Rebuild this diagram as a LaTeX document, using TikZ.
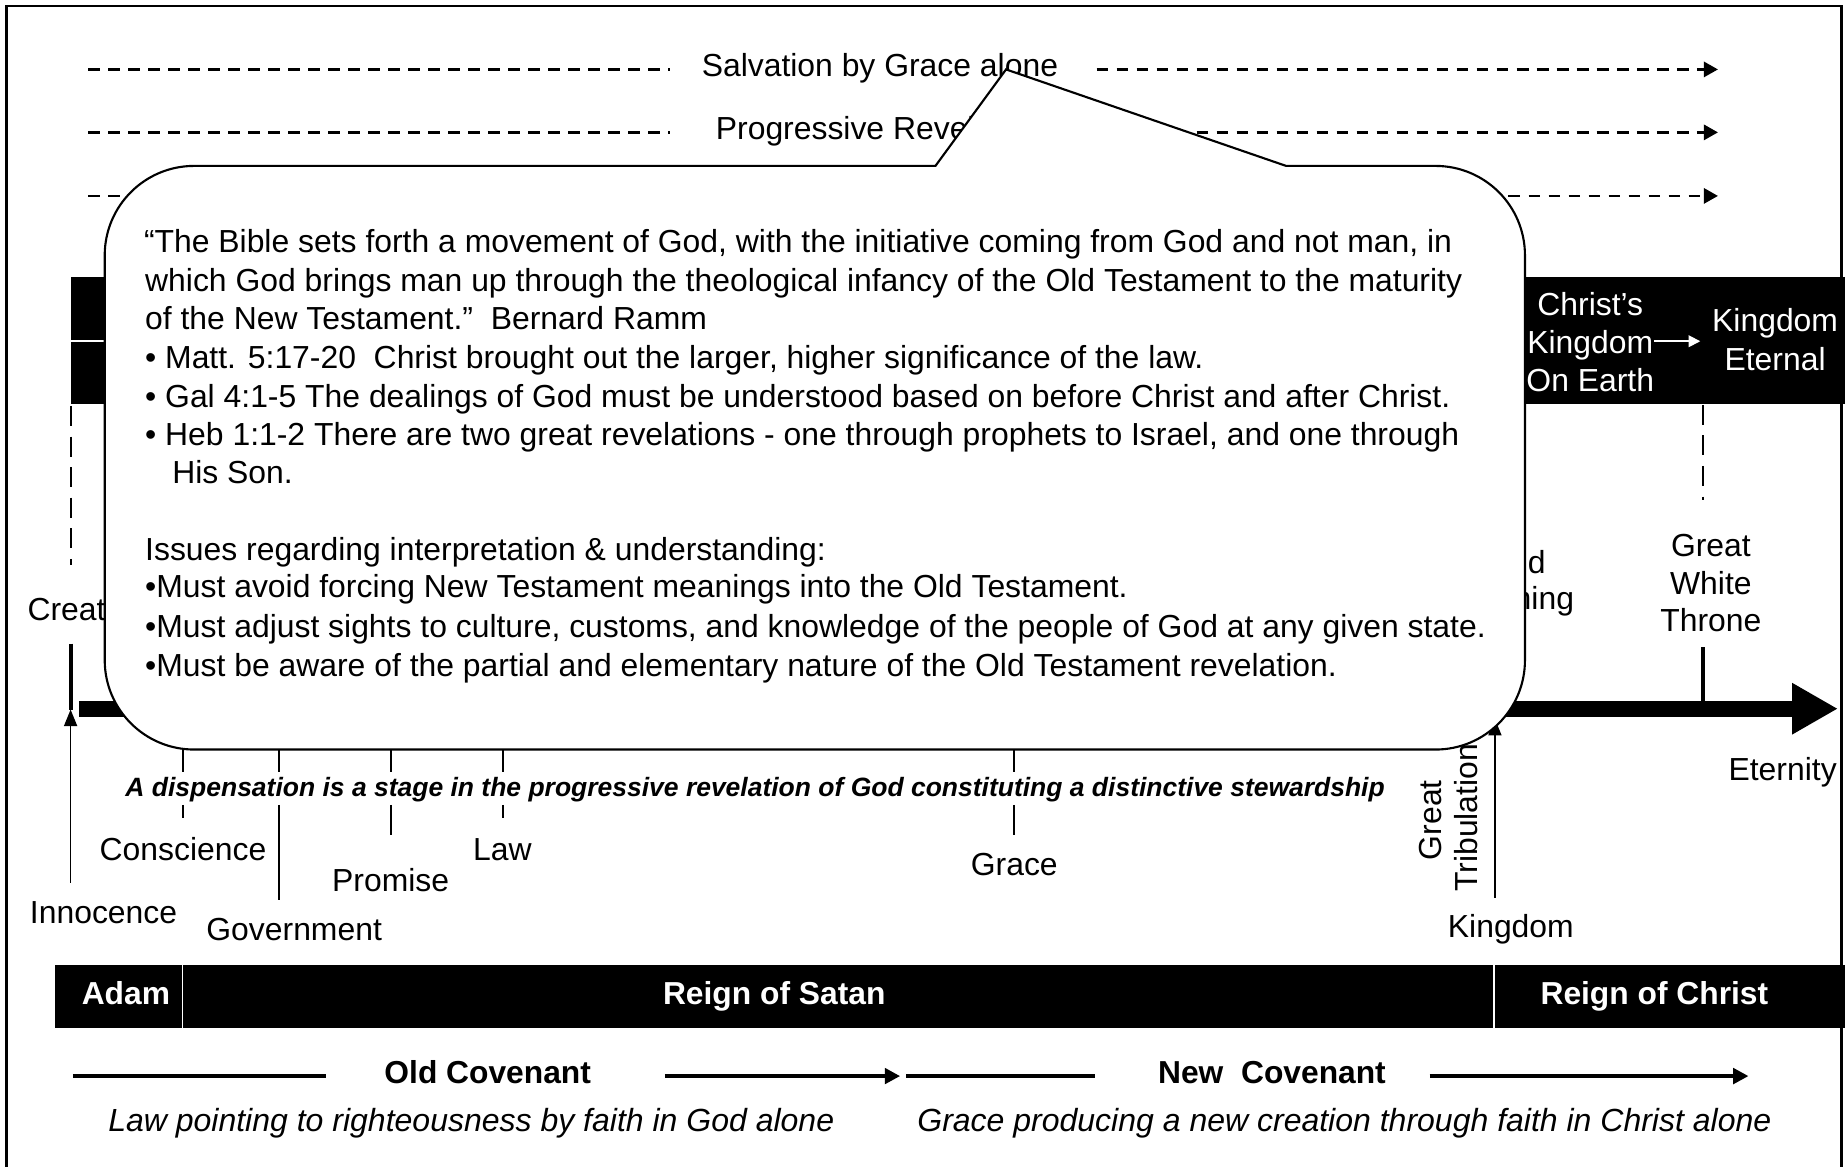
\documentclass[tikz,border=0pt]{standalone}
\usepackage{fontspec}
\setmainfont{Liberation Sans}
\usetikzlibrary{arrows.meta}
\begin{document}
\begin{tikzpicture}[x=0.5pt,y=-0.5pt,
  txt/.style={font={\fontsize{13.55pt}{16.35pt}\selectfont}, inner sep=0pt, anchor=base},
  wtxt/.style={txt, text=white},
  bwtxt/.style={font={\fontsize{13.5pt}{16.35pt}\selectfont\bfseries}, inner sep=0pt, anchor=base, text=white},
  btxt/.style={font={\fontsize{13.5pt}{16.35pt}\selectfont\bfseries}, inner sep=0pt, anchor=base},
  itxt/.style={font={\fontsize{13.6pt}{16.35pt}\selectfont\itshape}, inner sep=0pt, anchor=base},
  ctxt/.style={txt, anchor=base west},
  dashrow/.style={line width=1pt, dash pattern=on 5pt off 3.5pt, -{Triangle[length=6pt,width=6.5pt]}},
  dashplain/.style={line width=1pt, dash pattern=on 5pt off 3.5pt},
  vdash/.style={line width=0.8pt, dash pattern=on 8.5pt off 4.5pt},
  ticky/.style={line width=0.75pt},
  heavytick/.style={line width=1.75pt},
  thinarrow/.style={line width=0.75pt, -{Triangle[length=7pt,width=5.5pt]}},
  covline/.style={line width=1.7pt},
  covarrow/.style={line width=1.7pt, -{Triangle[length=6.5pt,width=6.5pt]}},
  callout/.style={draw=black, fill=white, line width=0.9pt, line join=miter},
]
\useasboundingbox (0,0) rectangle (1568,991);
\clip (0,0) rectangle (1568,991);

% frame
\draw[line width=1pt] (5.5,5) rectangle (1565,1000);

% top dashed rows
\coordinate (r1a) at (75,59);   \coordinate (r1b) at (569,59);
\coordinate (r1c) at (932,59);  \coordinate (r1d) at (1460,59);
\draw[dashplain] (r1a) -- (r1b);
\draw[dashrow] (r1c) -- (r1d);
\node[ctxt] (salv) at (596,65) {Salvation by Grace alone};

\coordinate (r2a) at (75,112.5);  \coordinate (r2b) at (569,112.5);
\coordinate (r2c) at (932,112.5); \coordinate (r2d) at (1460,112.5);
\draw[dashplain] (r2a) -- (r2b);
\draw[dashrow] (r2c) -- (r2d);
\node[ctxt] (prog) at (608,118.5) {Progressive Revelation};

\coordinate (r3a) at (75,166.5); \coordinate (r3d) at (1460,166.5);
\draw[dashrow] (r3a) -- (r3d);

% middle black band
\fill[black] (60,235) rectangle (1568,343);
\draw[white, line width=0.75pt] (60,289.5) -- (400,289.5);
\node[wtxt] (ck1) at (1351.5,268) {Christ’s};
\node[wtxt] (ck2) at (1351.5,300) {Kingdom};
\node[wtxt] (ck3) at (1351.5,333) {On Earth};
\node[wtxt] (ke1) at (1508.6,282) {Kingdom};
\node[wtxt] (ke2) at (1508.6,314.5) {Eternal};
\coordinate (karr1) at (1406,290); \coordinate (karr2) at (1445,290);
\draw[white, line width=0.75pt, -{Triangle[length=5pt,width=5pt]}] (karr1) -- (karr2);

% vertical dashed lines
\coordinate (vd1a) at (60,345);   \coordinate (vd1b) at (60,480);
\coordinate (vd2a) at (1447,344); \coordinate (vd2b) at (1447,425);
\draw[vdash] (vd1a) -- (vd1b);
\draw[vdash] (vd2a) -- (vd2b);

% labels above the timeline
\node[ctxt] (creation) at (23,527) {Creation};
\node[txt] (sc1) at (1291,487) {2nd};
\node[txt] (sc2) at (1291,518) {Coming};
\node[txt] (gw1) at (1454,473) {Great};
\node[txt] (gw2) at (1454,505) {White};
\node[txt] (gw3) at (1454,537) {Throne};
\coordinate (ct1) at (60,547);   \coordinate (ct2) at (60,603);
\coordinate (gt1c) at (1447,550); \coordinate (gt2c) at (1447,597);
\draw[heavytick] (ct1) -- (ct2);
\draw[heavytick] (gt1c) -- (gt2c);

% main timeline
\coordinate (tl0) at (67,602.3); \coordinate (tl1) at (1562,602.3);
\draw[line width=6.75pt, -{Triangle[length=19.5pt,width=20.5pt]}] (tl0) -- (tl1);

% thin arrows
\coordinate (inA) at (60,750);    \coordinate (inB) at (60,603);
\coordinate (kgA) at (1270.5,763); \coordinate (kgB) at (1270.5,611);
\draw[thinarrow] (inA) -- (inB);
\draw[thinarrow] (kgA) -- (kgB);

% ticks
\foreach \x/\b in {155.5/695, 237/765, 332/710, 427.3/695, 862/710}{
  \draw[ticky] (\x,609) -- (\x,656);
  \draw[ticky] (\x,684) -- (\x,\b);
}
\node[font={\fontsize{11.25pt}{13pt}\selectfont\bfseries\itshape}, inner sep=0pt, anchor=base] (disp) at (641.75,677)
  {A dispensation is a stage in the progressive revelation of God constituting a distinctive stewardship};

\node[txt] (inno) at (88,785) {Innocence};
\node[txt] (cons) at (155.5,731) {Conscience};
\node[txt] (gov) at (250,799) {Government};
\node[txt] (prom) at (332,758) {Promise};
\node[txt] (law) at (427,731) {Law};
\node[txt] (grace) at (862,744) {Grace};
\node[txt] (kingd) at (1284,797) {Kingdom};
\node[txt] (etern) at (1515,663) {Eternity};
\node[txt, rotate=90] (trib1) at (1225,697) {Great};
\node[txt, rotate=90] (trib2) at (1256,695) {Tribulation};

% callout
\draw[callout] (795,141) -- (855,59) -- (1093,141) -- (1220,141)
  .. controls (1262,141) and (1296,175) .. (1296,217) -- (1296,561)
  .. controls (1296,603) and (1262,637) .. (1220,637) -- (165,637)
  .. controls (123,637) and (89,603) .. (89,561) -- (89,217)
  .. controls (89,175) and (123,141) .. (165,141) -- cycle;

\node[ctxt] (q1) at (122,215) {“The Bible sets forth a movement of God, with the initiative coming from God and not man, in};
\node[ctxt] (q2) at (123,248) {which God brings man up through the theological infancy of the Old Testament to the maturity};
\node[ctxt] (q3) at (123,280) {of the New Testament.”\ \ Bernard Ramm};
\node[ctxt] (b1) at (123,313) {• Matt. 5:17-20\ \ Christ brought out the larger, higher significance of the law.};
\node[ctxt] (b2) at (123,346) {• Gal 4:1-5 The dealings of God must be understood based on before Christ and after Christ.};
\node[ctxt] (b3) at (123,379) {• Heb 1:1-2 There are two great revelations - one through prophets to Israel, and one through};
\node[ctxt] (b3b) at (146,411) {His Son.};
\node[ctxt] (iss) at (123,476) {Issues regarding interpretation \& understanding:};
\node[ctxt] (m1) at (123,508) {•Must avoid forcing New Testament meanings into the Old Testament.};
\node[ctxt] (m2) at (123,542) {•Must adjust sights to culture, customs, and knowledge of the people of God at any given state.};
\node[ctxt] (m3) at (123,575) {•Must be aware of the partial and elementary nature of the Old Testament revelation.};

% bottom band
\fill[black] (47,820) rectangle (1568,874);
\draw[white, line width=0.75pt] (155,820) -- (155,874);
\draw[white, line width=0.75pt] (1270,820) -- (1270,874);
\node[bwtxt] (adam) at (107,854) {Adam};
\node[bwtxt] (satan) at (658,854) {Reign of Satan};
\node[bwtxt] (christ) at (1406,854) {Reign of Christ};

% covenants
\coordinate (cv1) at (62,914.5);  \coordinate (cv2) at (277,914.5);
\coordinate (cv3) at (565,914.5); \coordinate (cv4) at (765,914.5);
\coordinate (cv5) at (770,914.5); \coordinate (cv6) at (930.6,914.5);
\coordinate (cv7) at (1215,914.5); \coordinate (cv8) at (1486,914.5);
\draw[covline] (cv1) -- (cv2);
\draw[covarrow] (cv3) -- (cv4);
\draw[covline] (cv5) -- (cv6);
\draw[covarrow] (cv7) -- (cv8);
\node[btxt] (oldc) at (414.5,921) {Old Covenant};
\node[btxt] (newc) at (1081,921) {New\ \ Covenant};
\node[itxt] (lawp) at (400.5,962) {Law pointing to righteousness by faith in God alone};
\node[itxt] (gracep) at (1142.5,962) {Grace producing a new creation through faith in Christ alone};
\end{tikzpicture}
\end{document}
